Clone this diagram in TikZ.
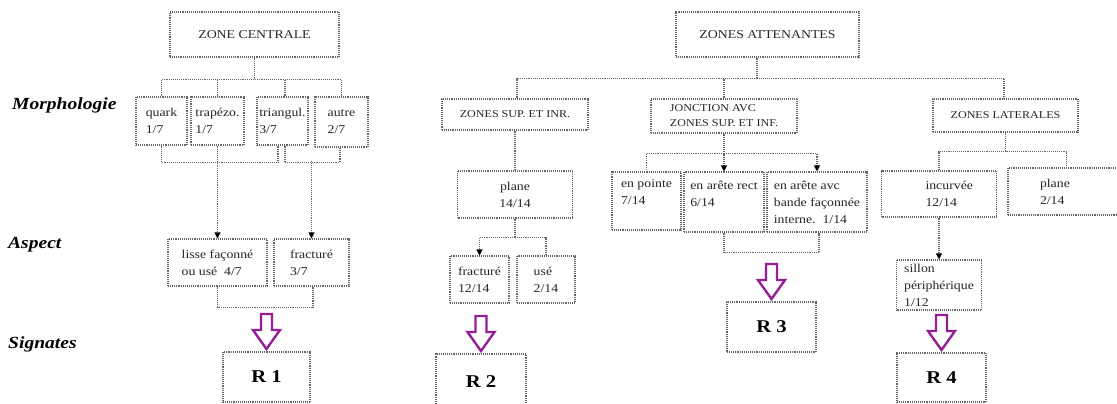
\documentclass[tikz,border=0pt]{standalone}
\usepackage{fontspec}
\setmainfont{Liberation Serif}
\newfontfamily\bx[FakeStretch=1.15]{Liberation Serif}
\usetikzlibrary{arrows.meta,calc}
\definecolor{parrow}{RGB}{150,30,150}
\tikzset{
 box/.style={draw=black!60, line width=1.1pt, dash pattern=on 1pt off 0.9pt, inner sep=2pt,
   font=\bx\fontsize{12}{17}\selectfont, text=black!85, align=left},
 capsfont/.style={font=\bx\fontsize{10.5}{15}\selectfont},
 conn/.style={draw=black!60, line width=1.1pt, dash pattern=on 1pt off 0.9pt},
 arr/.style={-{Triangle[length=6pt,width=6pt,color=black]}},
 rbox/.style={box, font=\bx\bfseries\fontsize{18}{20}\selectfont, text=black},
 rowlab/.style={font=\bx\bfseries\itshape\fontsize{17}{20}\selectfont, anchor=base west, inner sep=0pt},
 blockarrow/.pic={\draw[parrow, line width=2.4pt, fill=white, line join=miter]
   (-5.5,0) -- (5.5,0) -- (5.5,16) -- (13.5,16) -- (0,35) -- (-13.5,16) -- (-5.5,16) -- cycle;}
}
\begin{document}
\begin{tikzpicture}[x=1pt,y=-1pt]
\useasboundingbox (0,0) rectangle (1117,404);
\clip (0,0) rectangle (1117,404);
\fill[white] (0,0) rectangle (1117,404);

% row labels
\node[rowlab] (lmorph) at (12,110) {Morphologie};
\node[rowlab] (laspect) at (8,248) {Aspect};
\node[rowlab] (lsign) at (8,348) {Signates};

% zone centrale
\node[box, align=center, minimum width=169pt, minimum height=45pt] (zc) at (254.5,34.5) {ZONE CENTRALE};
\node[box, minimum width=51pt, minimum height=48pt] (quark) at (161.5,121) {quark\\1/7};
\node[box, minimum width=53pt, minimum height=48pt] (trap) at (217.5,121) {trapézo.\\1/7};
\node[box, minimum width=51pt, minimum height=48pt] (tri) at (282.5,121) {triangul.\\3/7};
\node[box, minimum width=53pt, minimum height=50pt] (autre) at (341.5,122) {autre\\2/7};
\node[box, minimum width=99pt, minimum height=47pt] (lisse) at (217.5,262.5) {lisse façonné\\ou usé~~4/7};
\node[box, minimum width=75pt, minimum height=47pt] (fr1) at (311.5,262.5) {fracturé\\3/7};
\node[rbox, minimum width=87pt, minimum height=50pt] (r1) at (266.5,377) {R 1};

% zones attenantes
\node[box, align=center, minimum width=183pt, minimum height=45pt] (za) at (767.5,34.5) {ZONES ATTENANTES};
\node[box, capsfont, align=center, minimum width=146pt, minimum height=31pt] (zsup) at (515,114.5) {ZONES SUP. ET INR.};
\node[box, capsfont, minimum width=146pt, minimum height=34pt] (jonc) at (724,116) {JONCTION AVC\\ZONES SUP. ET INF.};
\node[box, capsfont, align=center, minimum width=145pt, minimum height=33pt] (zlat) at (1005.5,115.5) {ZONES LATERALES};

\node[box, align=center, minimum width=115pt, minimum height=47pt] (plane14) at (515,194.5) {plane\\14/14};
\node[box, minimum width=59pt, minimum height=47pt] (fr12) at (479.5,279.5) {fracturé\\12/14};
\node[box, minimum width=58pt, minimum height=47pt] (use) at (546,279.5) {usé\\2/14};
\node[rbox, minimum width=90pt, minimum height=56pt] (r2) at (481,382) {R 2};

\node[box, minimum width=69pt, minimum height=58pt] (pointe) at (646.5,201) {en pointe\\7/14\\\mbox{}};
\node[box, minimum width=80pt, minimum height=60pt] (rect) at (724,202) {en arête rect\\6/14\\\mbox{}};
\node[box, minimum width=100pt, minimum height=60pt] (avc) at (817,202) {en arête avc\\bande façonnée\\interne.~~1/14};
\node[rbox, minimum width=89pt, minimum height=50pt] (r3) at (771.5,327) {R 3};

\node[box, minimum width=115pt, minimum height=46pt, text width=107pt] (incurv) at (939,194) {\hspace*{40pt}incurvée\\\hspace*{40pt}12/14};
\node[box, minimum width=117pt, minimum height=47pt, text width=109pt] (plane2) at (1066.5,191.5) {\hspace*{28pt}plane\\\hspace*{28pt}2/14};
\node[box, minimum width=85pt, minimum height=50pt] (sillon) at (939,285) {sillon\\périphérique\\1/12};
\node[rbox, minimum width=89pt, minimum height=49pt] (r4) at (941.5,377.5) {R 4};

% connectors: zone centrale
\draw[conn] (zc.south) -- ++(0,22) coordinate (zcbar);
\draw[conn] (quark.north) |- (zcbar) -| (autre.north);
\draw[conn] (trap.north) -- (trap.north |- zcbar);
\draw[conn] ([xshift=2.5pt]tri.north) -- ([xshift=2.5pt]tri.north |- zcbar);
\draw[conn] (quark.south) -- ++(0,17) -| ([xshift=-4.5pt]tri.south);
\draw[conn] ([xshift=2.5pt]tri.south) -- ++(0,17) -| ([xshift=-1.5pt]autre.south);
\draw[conn,arr] (trap.south) -- (lisse.north);
\draw[conn,arr] ([yshift=77pt]fr1.north) -- (fr1.north);
\draw[conn] (lisse.south) -- ++(0,21) -| ([xshift=1.5pt]fr1.south);
\pic (pa1) at (266.5,314) {blockarrow};

% connectors: zones attenantes
\draw[conn] ([xshift=-10.5pt]za.south) -- ++(0,21) coordinate (zabar);
\draw[conn] ([xshift=2pt]zsup.north) |- (zabar) -| ([xshift=-1.5pt]zlat.north);
\draw[conn] (jonc.north) -- (jonc.north |- zabar);

\draw[conn] (zsup.south) -- (plane14.north);
\draw[conn] (plane14.south) -- ++(0,19) coordinate (pbar);
\draw[conn,arr] (pbar) -| (fr12.north);
\draw[conn] (pbar) -| (use.north);
\pic (pa2) at (481,316) {blockarrow};

\draw[conn] (jonc.south) -- ++(0,20) coordinate (jbar);
\draw[conn] (jbar) -| (pointe.north);
\draw[conn,arr] (jbar) -- (rect.north);
\draw[conn,arr] (jbar) -| (avc.north);
\draw[conn] (rect.south) -- ++(0,20) -| ([xshift=2pt]avc.south);
\pic (pa3) at (771.5,264) {blockarrow};

\draw[conn] (zlat.south) -- ++(0,19) coordinate (lbar);
\draw[conn] (lbar) -| (incurv.north);
\draw[conn] (lbar) -| (plane2.north);
\draw[conn,arr] (incurv.south) -- (sillon.north);
\pic (pa4) at (941.5,315) {blockarrow};
\end{tikzpicture}
\end{document}
